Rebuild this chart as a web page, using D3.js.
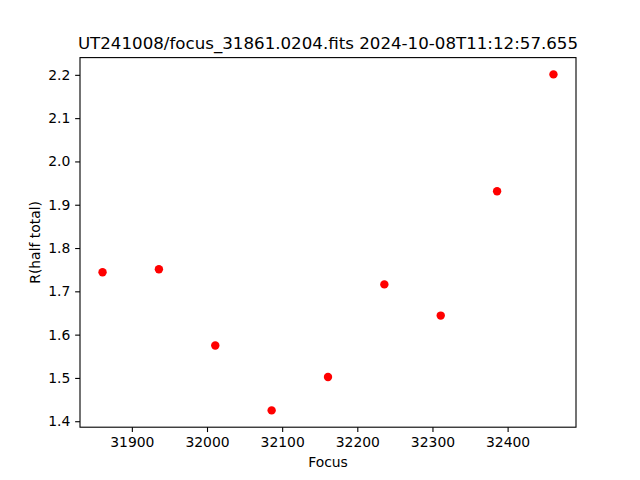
<!DOCTYPE html>
<html><head><meta charset="utf-8">
<script src="https://cdn.jsdelivr.net/npm/d3@7"></script>
<style>body{margin:0;background:#fff}svg{display:block}text{font-family:"DejaVu Sans",sans-serif;fill:#000}</style>
</head><body>
<script>
const focusValues = [31861, 31936, 32011, 32086, 32161, 32236, 32311, 32386, 32461];
const rHalfTotal = [1.744, 1.751, 1.575, 1.425, 1.502, 1.716, 1.644, 1.931, 2.201];
const xTicks = [31900, 32000, 32100, 32200, 32300, 32400];
const yTicks = [1.4, 1.5, 1.6, 1.7, 1.8, 1.9, 2.0, 2.1, 2.2];
const titleText = "UT241008/focus_31861.0204.fits 2024-10-08T11:12:57.655";

const W = 640, H = 480;
const L = 80, R = 576, T = 57.6, B = 427.2;
const svg = d3.select("body").append("svg").attr("width", W).attr("height", H);

const xe = d3.extent(focusValues), ye = d3.extent(rHalfTotal);
const xm = (xe[1]-xe[0])*0.05, ym = (ye[1]-ye[0])*0.05;
const x = d3.scaleLinear().domain([xe[0]-xm, xe[1]+xm]).range([L, R]);
const y = d3.scaleLinear().domain([ye[0]-ym, ye[1]+ym]).range([B, T]);

const xAxis = d3.axisBottom(x).tickValues(xTicks).tickFormat(d3.format("d")).tickSizeOuter(0).tickSize(4.86).tickPadding(4.86);
const yAxis = d3.axisLeft(y).tickValues(yTicks).tickFormat(d3.format(".1f")).tickSizeOuter(0).tickSize(4.86).tickPadding(4.86);

const gx = svg.append("g").attr("transform", `translate(0,${B})`).call(xAxis);
const gy = svg.append("g").attr("transform", `translate(${L},0)`).call(yAxis);
[gx, gy].forEach(g => {
  g.select(".domain").remove();
  g.selectAll(".tick line").attr("stroke", "#000").attr("stroke-width", 1.1);
  g.selectAll(".tick text").attr("font-size", "13.9px").attr("font-family", "DejaVu Sans").attr("fill", "#000");
});

svg.append("g").selectAll("circle").data(focusValues).join("circle")
  .attr("cx", (d) => x(d)).attr("cy", (d, i) => y(rHalfTotal[i])).attr("r", 4.2).attr("fill", "#ff0000");

svg.append("rect").attr("x", L).attr("y", T).attr("width", R-L).attr("height", B-T)
  .attr("fill", "none").attr("stroke", "#000").attr("stroke-width", 1.1);

svg.append("text").attr("x", (L+R)/2).attr("y", 49.3).attr("text-anchor", "middle")
  .attr("font-size", "16.67px").text(titleText);
svg.append("text").attr("x", (L+R)/2).attr("y", 467).attr("text-anchor", "middle")
  .attr("font-size", "13.9px").text("Focus");
svg.append("text").attr("transform", `translate(39.5,${(T+B)/2}) rotate(-90)`).attr("text-anchor", "middle")
  .attr("font-size", "13.9px").text("R(half total)");
</script>
</body></html>
